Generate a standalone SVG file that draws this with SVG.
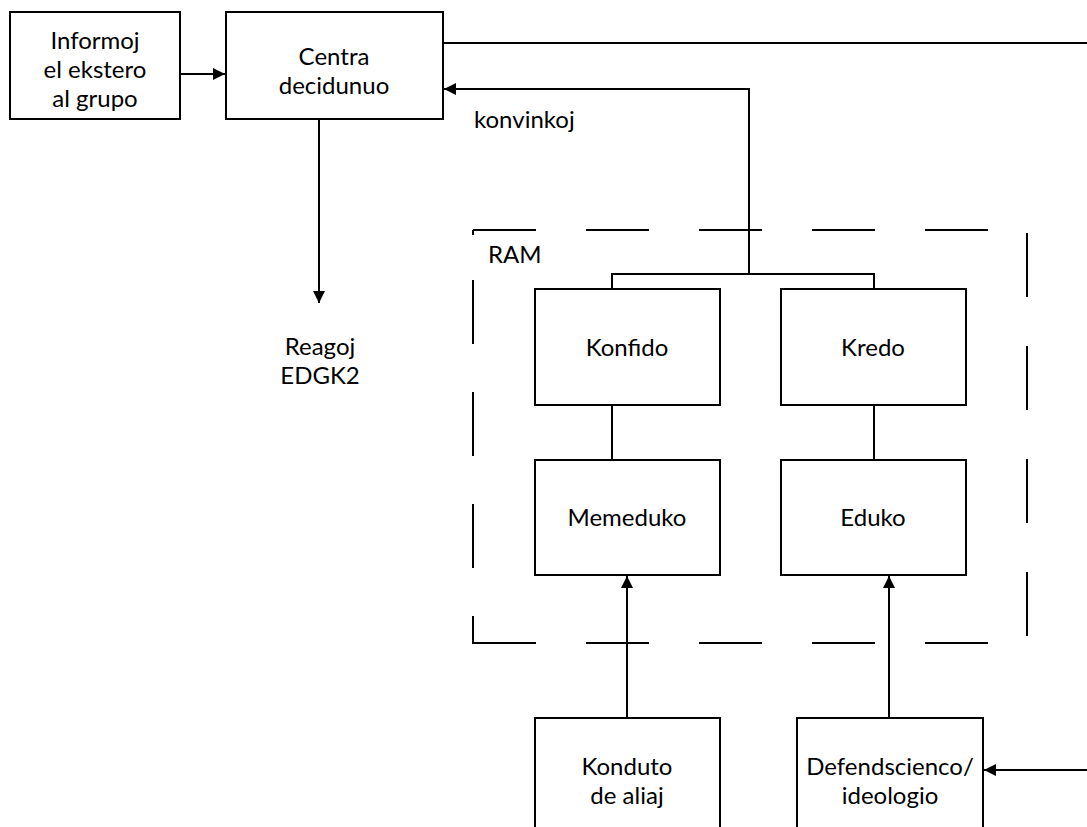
<svg xmlns="http://www.w3.org/2000/svg" width="1087" height="827" viewBox="0 0 1087 827">
<style>
.box{fill:#fff;stroke:#000;stroke-width:2}
.ln{fill:none;stroke:#000;stroke-width:2}
.ar{fill:none;stroke:#000;stroke-width:2;marker-end:url(#ah)}
.ds{fill:none;stroke:#000;stroke-width:2}
text{font-family:Lato,"Open Sans","Liberation Sans",sans-serif;font-size:24px;fill:#000}
.c{text-anchor:middle}
</style>
<defs>
<marker id="ah" markerUnits="userSpaceOnUse" markerWidth="14" markerHeight="12" refX="12" refY="6" orient="auto">
<path d="M0,0 L12,6 L0,12 Z" fill="#000"/>
</marker>
</defs>
<rect width="1087" height="827" fill="#fff"/>
<g id="ram">
<path class="ds" d="M473,230 H1027" stroke-dasharray="63 50"/>
<path class="ds" d="M473,643 H1027" stroke-dasharray="63 50"/>
<path class="ds" d="M1027,233 V643" stroke-dasharray="64 49"/>
<path class="ds" d="M473,280 V644" stroke-dasharray="64 48"/>
<path class="ds" d="M473,235 V230"/>
<text x="488" y="263">RAM</text>
</g>
<g id="connectors">
<path class="ar" d="M180,74 H225"/>
<path class="ln" d="M443,43 H1087"/>
<path class="ar" d="M749,274 V89 H444"/>
<path class="ln" d="M612,289 V274 H874 V289"/>
<path class="ar" d="M319,119 V303"/>
<path class="ln" d="M612,405 V460"/>
<path class="ln" d="M874,405 V460"/>
<path class="ar" d="M627,718 V576"/>
<path class="ar" d="M889,718 V576"/>
<path class="ar" d="M1087,770 H984"/>
</g>
<g id="informoj">
<rect class="box" x="10" y="12" width="170" height="107"/>
<text class="c" x="95" y="49">Informoj</text>
<text class="c" x="95" y="78">el ekstero</text>
<text class="c" x="95" y="107">al grupo</text>
</g>
<g id="centra">
<rect class="box" x="226" y="12" width="217" height="107"/>
<text class="c" x="334" y="65">Centra</text>
<text class="c" x="334" y="94">decidunuo</text>
</g>
<g id="konvinkoj">
<text x="474" y="128">konvinkoj</text>
</g>
<g id="reagoj">
<text class="c" x="320" y="355">Reagoj</text>
<text class="c" x="320" y="384">EDGK2</text>
</g>
<g id="konfido">
<rect class="box" x="535" y="289" width="185" height="116"/>
<text class="c" x="627" y="356">Konfido</text>
</g>
<g id="kredo">
<rect class="box" x="781" y="289" width="185" height="116"/>
<text class="c" x="873" y="356">Kredo</text>
</g>
<g id="memeduko">
<rect class="box" x="535" y="460" width="185" height="115"/>
<text class="c" x="627" y="526">Memeduko</text>
</g>
<g id="eduko">
<rect class="box" x="781" y="460" width="185" height="115"/>
<text class="c" x="873" y="526">Eduko</text>
</g>
<g id="konduto">
<rect class="box" x="535" y="718" width="185" height="130"/>
<text class="c" x="627" y="775">Konduto</text>
<text class="c" x="627" y="804">de aliaj</text>
</g>
<g id="defendscienco">
<rect class="box" x="797" y="718" width="186" height="130"/>
<text class="c" x="890" y="775">Defendscienco/</text>
<text class="c" x="890" y="804">ideologio</text>
</g>
</svg>
